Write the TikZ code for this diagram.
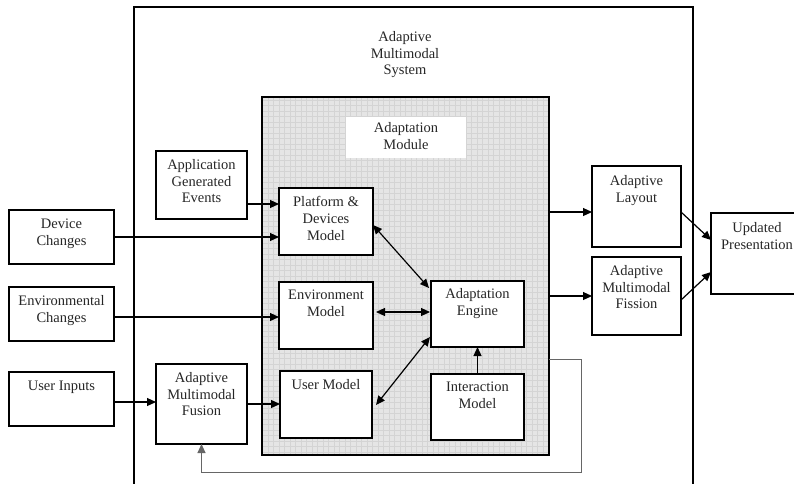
\documentclass[tikz,border=0pt]{standalone}
\usepackage{fontspec}
\setmainfont{Liberation Serif}
\usetikzlibrary{arrows.meta}
\newcommand\bx[6][]{\node[box,#1,minimum width={(#5-#3)*1pt},minimum height={(#6-#4)*1pt}] (#2) at ({(#3+#5)/2},{(#4+#6)/2}) {};}
\begin{document}
\begin{tikzpicture}[x=1pt,y=-1pt,
  box/.style={draw, line width=1.4pt, fill=white, inner sep=0pt, outer sep=0pt, rectangle},
  txt/.style={anchor=north, align=center, inner sep=0pt, font=\fontsize{14.5}{16.8}\selectfont, text=black!85},
  arr/.style={-{Triangle[length=9pt,width=8pt]}, line width=1.2pt},
  darr/.style={{Triangle[length=9pt,width=8pt]}-{Triangle[length=9pt,width=8pt]}, line width=1.2pt},
  fb/.style={-{Triangle[length=9pt,width=8pt]}, line width=1pt, draw=black!60},
  gridline/.style={draw=black!17, line width=0.4pt}]
\clip (0,0) rectangle (794,483);
\fill[white] (0,0) rectangle (794,483);
% outer system box
\bx[fill=none]{sys}{134}{7}{693}{500}
\node[txt] (sys-t) at (405,31) {Adaptive\\Multimodal\\System};
% adaptation module (gridded)
\node[draw=black, line width=1.4pt, fill=black!10, inner sep=0pt, outer sep=0pt,
  minimum width=287pt, minimum height=358pt,
  path picture={\draw[gridline] (path picture bounding box.south west) grid[step=5.5pt] (path picture bounding box.north east);}]
  (module) at (405.5,276) {};
\node[fill=white, minimum width=120pt, minimum height=41pt, inner sep=0pt] (modlabel) at (406,137.5) {};
\node[txt] (modlabel-t) at (406,122) {Adaptation\\Module};
% inner boxes
\bx{plat}{279}{188}{373}{255}
\node[txt] (plat-t) at ([yshift=-8pt]plat.north) {Platform \&\\Devices\\Model};
\bx{envm}{279}{282}{373}{349}
\node[txt] (envm-t) at ([yshift=-8pt]envm.north) {Environment\\Model};
\bx{userm}{280}{371}{372}{438}
\node[txt] (userm-t) at ([yshift=-8pt]userm.north) {User Model};
\bx{engine}{431}{281}{524}{347}
\node[txt] (engine-t) at ([yshift=-7pt]engine.north) {Adaptation\\Engine};
\bx{inter}{431}{374}{524}{440}
\node[txt] (inter-t) at ([yshift=-8pt]inter.north) {Interaction\\Model};
% left boxes
\bx{app}{156}{151}{247}{219}
\node[txt] (app-t) at ([yshift=-8pt]app.north) {Application\\Generated\\Events};
\bx{dev}{9}{210}{114}{264}
\node[txt] (dev-t) at ([yshift=-9pt]dev.north) {Device\\Changes};
\bx{envc}{9}{287}{114}{341}
\node[txt] (envc-t) at ([yshift=-8pt]envc.north) {Environmental\\Changes};
\bx{uin}{9}{372}{114}{426}
\node[txt] (uin-t) at ([yshift=-9pt]uin.north) {User Inputs};
\bx{fusion}{156}{364}{247}{444}
\node[txt] (fusion-t) at ([yshift=-8pt]fusion.north) {Adaptive\\Multimodal\\Fusion};
% right boxes
\bx{layout}{592}{166}{681}{247}
\node[txt] (layout-t) at ([yshift=-9pt]layout.north) {Adaptive\\Layout};
\bx{fission}{592}{257}{681}{335}
\node[txt] (fission-t) at ([yshift=-8pt]fission.north) {Adaptive\\Multimodal\\Fission};
\bx{upd}{711}{213}{803}{294}
\node[txt] (upd-t) at ([yshift=-9pt]upd.north) {Updated\\Presentation};
% connector anchor points
\coordinate (appo) at ([yshift=-19pt]app.east);
\coordinate (envco) at ([yshift=-3pt]envc.east);
\coordinate (uino) at ([yshift=-3pt]uin.east);
\coordinate (layo) at ([yshift=-5.5pt]layout.west);
% connectors
\draw[arr] (appo) -- (plat.west |- appo);
\draw[arr] (dev.east) -- (plat.west |- dev.east);
\draw[arr] (envco) -- (envm.west |- envco);
\draw[arr] (uino) -- (fusion.west |- uino);
\draw[arr] (fusion.east) -- (userm.west |- fusion.east);
\draw[darr] ([yshift=-3.5pt]plat.east) -- ([shift={(-2pt,-7pt)}]engine.north west);
\draw[darr] ([shift={(3pt,3.5pt)}]envm.east) -- ([shift={(-1pt,2pt)}]engine.west);
\draw[darr] ([shift={(4pt,-0.5pt)}]userm.east) -- ([shift={(-1pt,-23pt)}]engine.west);
\draw[arr] (inter.north) -- (engine.south);
\draw[arr] (module.east |- layo) -- (layo);
\draw[arr] (module.east |- fission.west) -- (fission.west);
\draw[arr] ([yshift=-5.5pt]layout.east) -- ([yshift=13.5pt]upd.west);
\draw[arr] ([yshift=-4pt]fission.east) -- ([yshift=-18.5pt]upd.west);
\coordinate (fbR) at (581,472);
\draw[fb] ([yshift=-83pt]module.east) -| (fbR) -| (fusion.south);
\end{tikzpicture}
\end{document}
